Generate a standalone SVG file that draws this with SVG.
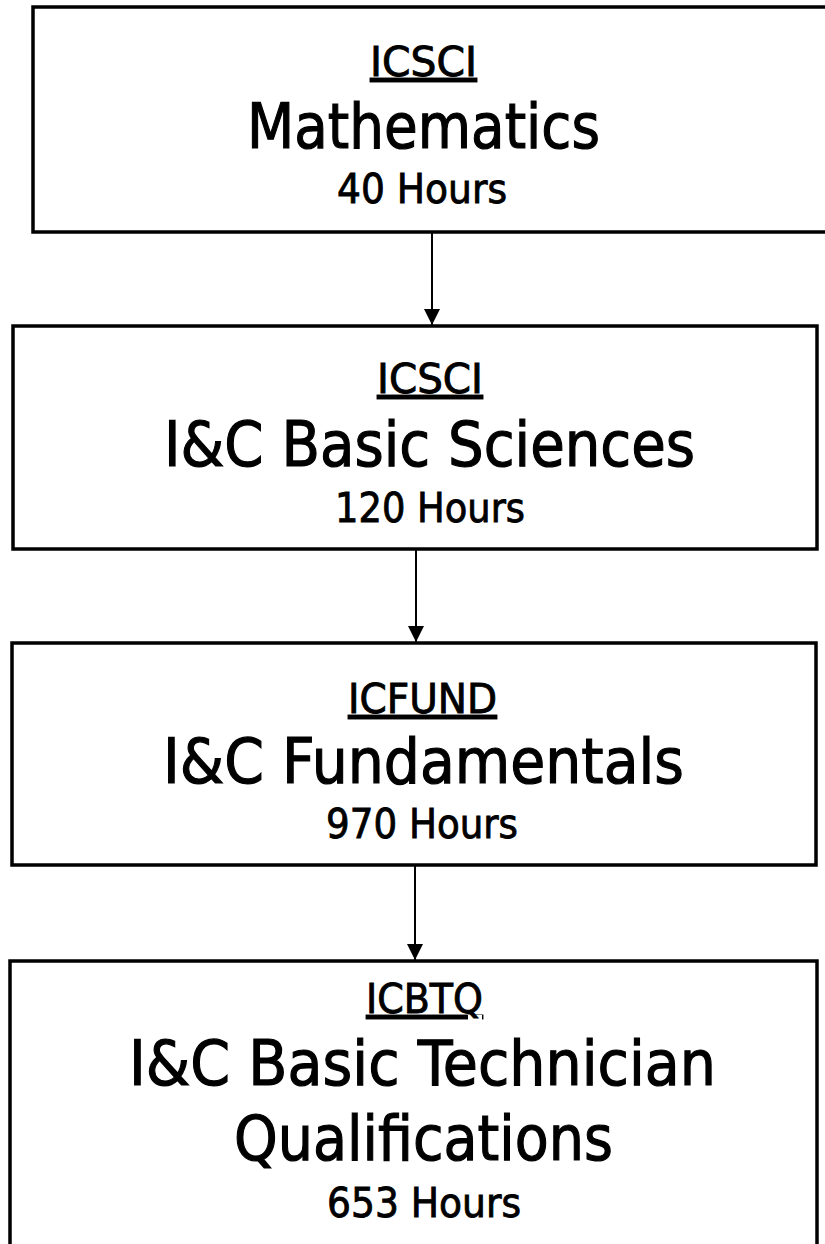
<svg xmlns="http://www.w3.org/2000/svg" width="825" height="1244" viewBox="0 0 825 1244">
<defs>
<style>
.box{fill:#fff;stroke:#000;stroke-width:3.5}
.t{font-family:"DejaVu Sans","Liberation Sans",sans-serif;fill:#000;stroke:#000;stroke-width:0.9;text-anchor:start}
.code{font-size:40px;text-decoration:underline}
.title{font-size:63px;stroke-width:1.2}
.hrs{font-size:41px}
.conn{stroke:#000;stroke-width:2;fill:none;marker-end:url(#ah)}
</style>
<marker id="ah" markerWidth="16" markerHeight="16" refX="16" refY="8" orient="auto" markerUnits="userSpaceOnUse">
<path d="M0,0 L16,8 L0,16 Z" fill="#000"/>
</marker>
</defs>
<rect width="825" height="1244" fill="#fff"/>
<g id="connectors">
<line class="conn" x1="432" y1="232" x2="432" y2="325"/>
<line class="conn" x1="416" y1="549" x2="416" y2="642"/>
<line class="conn" x1="415" y1="865" x2="415" y2="960"/>
</g>
<g id="node-mathematics">
<rect class="box" x="33" y="7" width="800" height="225"/>
<text class="t code" x="370" y="76" textLength="107" lengthAdjust="spacingAndGlyphs">ICSCI</text>
<text class="t title" x="247" y="148" textLength="353" lengthAdjust="spacingAndGlyphs">Mathematics</text>
<text class="t hrs" x="337" y="203" textLength="170" lengthAdjust="spacingAndGlyphs">40 Hours</text>
</g>
<g id="node-basic-sciences">
<rect class="box" x="13" y="326" width="804" height="223"/>
<text class="t code" x="377" y="393" textLength="106" lengthAdjust="spacingAndGlyphs">ICSCI</text>
<text class="t title" x="164" y="466" textLength="531" lengthAdjust="spacingAndGlyphs">I&amp;C Basic Sciences</text>
<text class="t hrs" x="335" y="522" textLength="190" lengthAdjust="spacingAndGlyphs">120 Hours</text>
</g>
<g id="node-fundamentals">
<rect class="box" x="12" y="643" width="804" height="222"/>
<text class="t code" x="348" y="713" textLength="149" lengthAdjust="spacingAndGlyphs">ICFUND</text>
<text class="t title" x="163" y="783" textLength="521" lengthAdjust="spacingAndGlyphs">I&amp;C Fundamentals</text>
<text class="t hrs" x="326" y="838" textLength="192" lengthAdjust="spacingAndGlyphs">970 Hours</text>
</g>
<g id="node-btq">
<rect class="box" x="10" y="961" width="807" height="300"/>
<text class="t code" x="366" y="1013" textLength="117" lengthAdjust="spacingAndGlyphs">ICBTQ</text>
<text class="t title" x="129" y="1085" textLength="587" lengthAdjust="spacingAndGlyphs">I&amp;C Basic Technician</text>
<text class="t title" x="234" y="1160" textLength="379" lengthAdjust="spacingAndGlyphs">Qualifications</text>
<text class="t hrs" x="327" y="1217" textLength="194" lengthAdjust="spacingAndGlyphs">653 Hours</text>
</g>
</svg>
